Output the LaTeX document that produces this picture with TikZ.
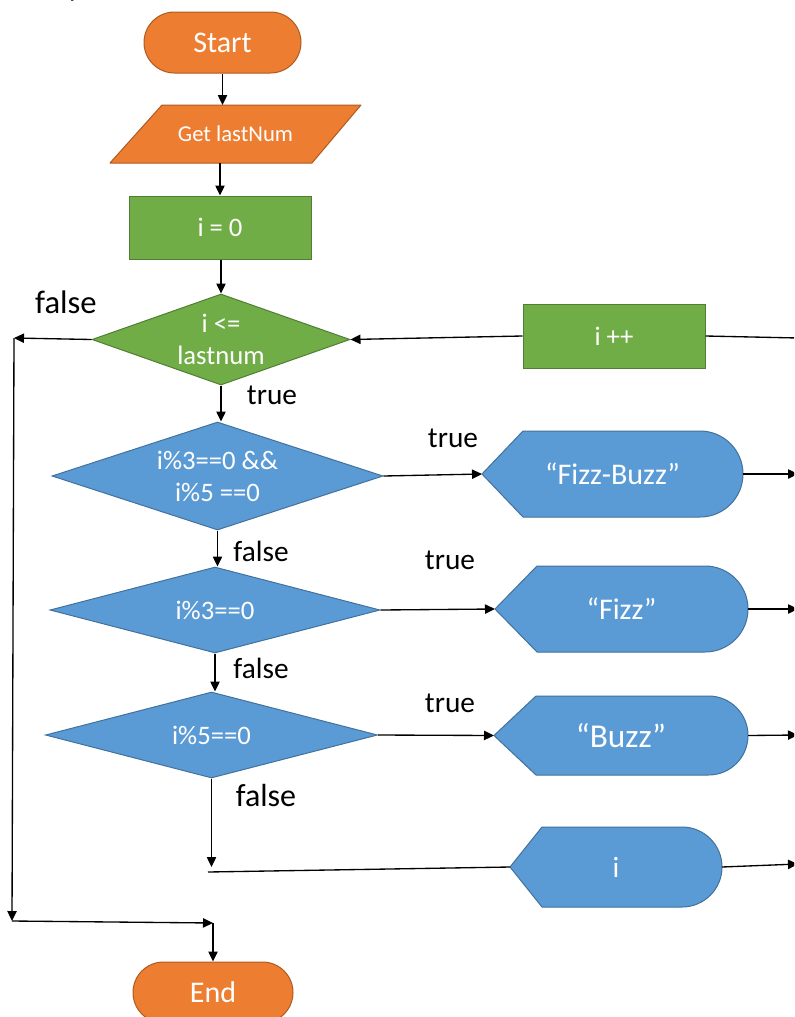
\documentclass[tikz,border=0pt]{standalone}
\usepackage{fontspec}
\setmainfont{Carlito}
\usetikzlibrary{shapes.geometric,shapes.misc,arrows.meta,calc}

\definecolor{orfill}{HTML}{ED7D31}
\definecolor{ordraw}{HTML}{AE5A21}
\definecolor{grfill}{HTML}{70AD47}
\definecolor{grdraw}{HTML}{507E32}
\definecolor{blfill}{HTML}{5B9BD5}
\definecolor{bldraw}{HTML}{41719C}

\pgfdeclarelayer{paper}
\pgfdeclarelayer{shapes}
\pgfsetlayers{paper,shapes,main}

\newcommand\fsz[2]{\fontsize{#1pt}{#2pt}\selectfont}
% output (display) shape behind node #1: point inset #2, right end radius #3
\newcommand\outshape[3]{%
  \path[outfill] (#1.west) -- ($(#1.north west)+(#2,0)$)
    -- ($(#1.north east)+(-#3,0)$)
    arc[start angle=90,end angle=-90,radius=#3*0.75pt]
    -- ($(#1.south west)+(#2,0)$) -- cycle;}

\tikzset{
  term/.style={rounded rectangle, fill=orfill, draw=ordraw, line width=0.75pt,
    text=white, inner sep=0pt, font=\fsz{22.5}{26}},
  proc/.style={rectangle, fill=grfill, draw=grdraw, line width=0.75pt,
    text=white, inner sep=0pt, font=\fsz{20}{24}},
  test/.style={diamond, aspect=3, line width=0.75pt, text=white, inner sep=0pt,
    align=center, font=\fsz{20}{24}},
  gtest/.style={test, fill=grfill, draw=grdraw},
  btest/.style={test, fill=blfill, draw=bldraw},
  shapebox/.style={rectangle, inner sep=0pt, outer sep=0pt, text=white},
  outfill/.style={fill=blfill, draw=bldraw, line width=0.75pt, line join=round},
  infill/.style={fill=orfill, draw=ordraw, line width=0.75pt, line join=round},
  conn/.style={line width=1pt, black},
  arr/.style={conn, -{Triangle[length=7.5pt,width=7pt]}},
  lbl/.style={inner sep=0pt, text=black}
}

\begin{document}
\begin{tikzpicture}[x=0.75pt,y=-0.75pt]
\useasboundingbox (0,0) rectangle (794,1017);
\begin{pgfonlayer}{paper}
  \fill[white] (0,0) rectangle (794,1017);
\end{pgfonlayer}
\clip (0,0) rectangle (794,1017);

% tail of a heading line above
\node[lbl, font=\fsz{22}{26}, anchor=base] (ytail) at (74.5,-3.5) {y};

% flow nodes
\node[term, minimum width=117.75pt, minimum height=45.75pt] (start) at (222.5,42.5) {Start};
\node[shapebox, minimum width=188.25pt, minimum height=43.5pt, font=\fsz{17}{20}] (gl) at (235.5,134) {Get lastNum};
\node[proc, minimum width=136.5pt, minimum height=47.25pt] (i0) at (220,227.5) {i = 0};
\node[gtest, aspect=2.8, minimum width=193.5pt, minimum height=68.25pt] (d1) at (221,339.5) {i <=\\lastnum};
\node[proc, minimum width=136.5pt, minimum height=48pt] (ipp) at (614,336) {i ++};
\node[btest, minimum width=248.25pt, minimum height=81pt] (d2) at (217.5,476) {i\%3==0 \&\&\\i\%5 ==0};
\node[shapebox, minimum width=195.75pt, minimum height=64.5pt, font=\fsz{22.5}{26}] (fb) at (612.5,474) {“Fizz-Buzz”};
\node[btest, minimum width=247.5pt, minimum height=64.5pt] (d3) at (215,610) {i\%3==0};
\node[shapebox, minimum width=189.75pt, minimum height=64.5pt, font=\fsz{22.5}{26}] (fz) at (621.5,609) {“Fizz”};
\node[btest, minimum width=249pt, minimum height=64.5pt] (d4) at (211.5,735) {i\%5==0};
\node[shapebox, minimum width=190.5pt, minimum height=59.25pt, font=\fsz{25}{30}] (bz) at (621,735.5) {“Buzz”};
\node[shapebox, minimum width=159pt, minimum height=60pt, font=\fsz{22}{26}] (io) at (616,867) {i};
\node[term, minimum width=120pt, minimum height=45.75pt] (end) at (213,992.5) {End};

% input and output outlines
\begin{pgfonlayer}{shapes}
  \path[infill] (gl.south west) -- ($(gl.north west)+(52,0)$) -- (gl.north east)
    -- ($(gl.south east)+(-49,0)$) -- cycle;
  \outshape{fb}{41}{43}
  \outshape{fz}{42}{43}
  \outshape{bz}{42}{39.5}
  \outshape{io}{32}{40}
\end{pgfonlayer}

% free ends and bends
\coordinate (fl1) at (14,338);
\coordinate (fl2) at (12,921);
\coordinate (fl3) at (213,923);
\coordinate (j1) at (213,867);
\coordinate (j2) at (208,872);
\coordinate (ipo) at (798,338);
\coordinate (fbo) at (798,474);
\coordinate (fzo) at (798,609);
\coordinate (bzo) at (798,735);
\coordinate (ioo) at (798,864);

% connectors
\draw[arr] (start.south) -- (start.south |- gl.north);
\draw[arr] (gl.south -| i0.north) -- (i0.north);
\draw[arr] (i0.south -| d1.north) -- (d1.north);
\draw[arr] (d1.south) -- (d1.south |- d2.north);
\draw[arr] (d2.south) -- (d2.south |- d3.north);
\draw[arr] (d3.south) -- (d3.south |- d4.north);
\draw[arr] (d4.south) -- (d4.south |- j1);
\draw[conn] (j2) -- (io.west);
\draw[arr] (io.east) -- (ioo);

\draw[arr] (d2.east) -- (fb.west);
\draw[arr] (fb.east) -- (fbo);
\draw[arr] (d3.east) -- (fz.west);
\draw[arr] (fz.east) -- (fzo);
\draw[arr] (d4.east) -- (bz.west);
\draw[arr] (bz.east) -- (bzo);

\draw[conn] (ipo) -- (ipp.east);
\draw[arr] (ipp.west) -- (d1.east);

\draw[arr] (d1.west) -- (fl1);
\draw[arr] (fl1) -- (fl2);
\draw[arr] (fl2) -- (fl3);
\draw[arr] (fl3) -- (end.north);

% branch labels
\node[lbl, font=\fsz{24.5}{28}] (lf1) at (66,302) {false};
\node[lbl, font=\fsz{22}{26}] (lt1) at (272,395) {true};
\node[lbl, font=\fsz{22}{26}] (lt2) at (453,438) {true};
\node[lbl, font=\fsz{22}{26}] (lf2) at (261,551) {false};
\node[lbl, font=\fsz{22}{26}] (lt3) at (450,560) {true};
\node[lbl, font=\fsz{22}{26}] (lf3) at (261,668) {false};
\node[lbl, font=\fsz{22}{26}] (lt4) at (450,703) {true};
\node[lbl, font=\fsz{24}{28}] (lf4) at (266,795) {false};
\end{tikzpicture}
\end{document}
